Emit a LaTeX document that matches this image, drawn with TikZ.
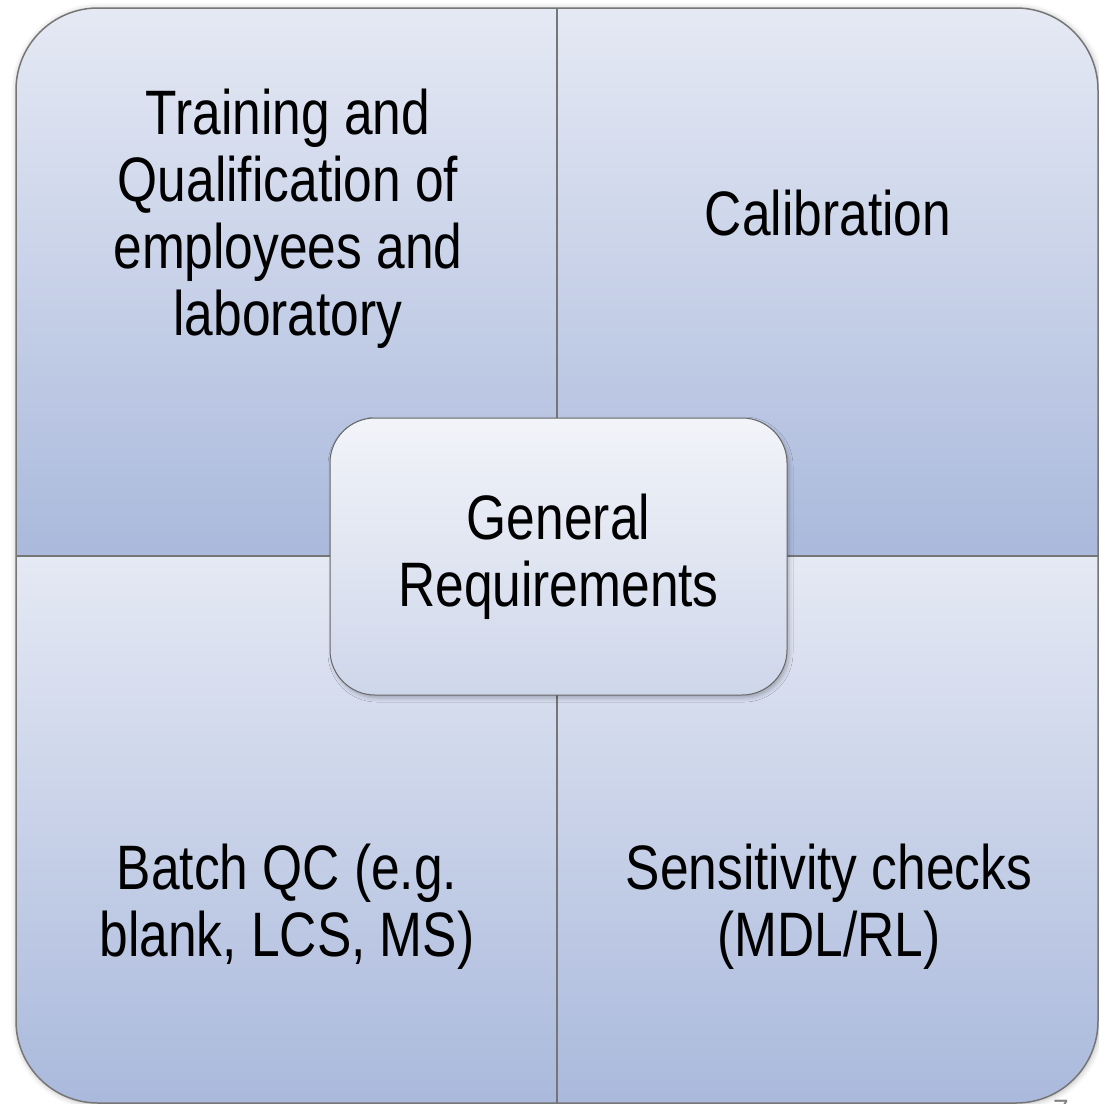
\documentclass[tikz,border=0pt]{standalone}
\usepackage{fontspec}
\setmainfont[FakeStretch=0.82]{Liberation Sans}
\newfontfamily\numfont{Liberation Sans}
\usetikzlibrary{shadows.blur}
\definecolor{qtop}{RGB}{229,233,244}
\definecolor{qbot}{RGB}{170,185,220}
\definecolor{ctop}{RGB}{242,244,249}
\definecolor{cbot}{RGB}{206,214,234}
\definecolor{edgec}{RGB}{118,118,118}
\begin{document}
\begin{tikzpicture}[x=1pt,y=-1pt,
  quad/.style={top color=qtop,bottom color=qbot},
  lbl/.style={align=center,inner sep=0pt,text=black,font=\fontsize{62.8}{67}\selectfont},
  hub/.style={rounded corners=45pt,minimum width=457pt,minimum height=277pt,
    draw=black!60,line width=1pt,top color=ctop,bottom color=cbot,
    align=center,inner sep=0pt,font=\fontsize{62.8}{67}\selectfont,
    blur shadow={shadow xshift=2pt,shadow yshift=-3pt,shadow blur radius=4pt,shadow opacity=25}},
  frame/.style={draw=edgec,line width=1.5pt},
  pagenum/.style={text=black!50,inner sep=0pt,anchor=north,font=\numfont\fontsize{28}{30}\selectfont}]
\useasboundingbox (0,0) rectangle (1099,1104);
% outer soft shadow
\path[rounded corners=82pt,fill=white,
  blur shadow={shadow xshift=1pt,shadow yshift=-1pt,shadow blur radius=6pt,shadow opacity=30}]
  (16,8) rectangle (1098,1103);
% quadrants
\begin{scope}
  \clip[rounded corners=82pt] (16,8) rectangle (1098,1103);
  \shade[quad] (16,8) rectangle (557,556);
  \shade[quad] (557,8) rectangle (1098,556);
  \shade[quad] (16,556) rectangle (557,1103);
  \shade[quad] (557,556) rectangle (1098,1103);
\end{scope}
\draw[frame,rounded corners=82pt] (16,8) rectangle (1098,1103);
\coordinate (vt) at (557,8);
\coordinate (vb) at (557,1103);
\coordinate (hl) at (16,556);
\coordinate (hr) at (1098,556);
\draw[frame] (vt) -- (vb);
\draw[frame] (hl) -- (hr);
% labels
\node[lbl] (tl) at (288,219) {Training and\\Qualification of\\employees and\\laboratory};
\node[lbl] (tr) at (828,213.5) {Calibration};
\node[lbl] (bl) at (287,907) {Batch QC (e.g.\\blank, LCS, MS)};
\node[lbl] (br) at (829,907) {Sensitivity checks\\(MDL/RL)};
% centre
\node[hub] (gen) at (558.5,556.5) {General\\Requirements};
% page number (cut off, as in the reference)
\node[pagenum] (pg) at (1061,1100) {7};
\end{tikzpicture}
\end{document}
